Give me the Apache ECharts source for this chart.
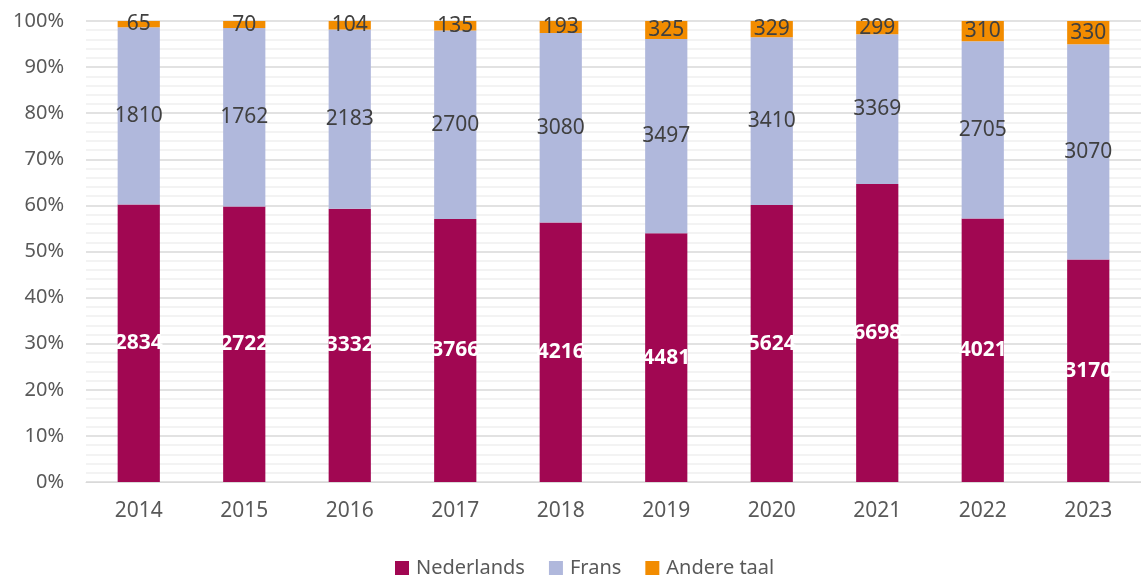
<!DOCTYPE html>
<html>
<head>
<meta charset="utf-8">
<script src="https://cdn.jsdelivr.net/npm/echarts@6/dist/echarts.min.js"></script>
<style>
  html, body { margin: 0; padding: 0; background: #fff; }
  #main { width: 1141px; height: 581px; }
</style>
</head>
<body>
<div id="main"></div>
<script>
// jaren en aantallen per taal
var years = ["2014", "2015", "2016", "2017", "2018", "2019", "2020", "2021", "2022", "2023"];
var nederlands = [2834, 2722, 3332, 3766, 4216, 4481, 5624, 6698, 4021, 3170];
var frans = [1810, 1762, 2183, 2700, 3080, 3497, 3410, 3369, 2705, 3070];
var andere = [65, 70, 104, 135, 193, 325, 329, 299, 310, 330];

var totals = years.map(function (y, i) {
  return nederlands[i] + frans[i] + andere[i];
});

// aandeel per jaar, label toont het echte aantal
function shares(arr) {
  return arr.map(function (v, i) {
    return { value: v / totals[i], raw: v };
  });
}

var myChart = echarts.init(document.getElementById("main"));
var font = "'Noto Sans', sans-serif";

function labelCfg(color, bold) {
  return {
    show: true,
    position: "inside",
    color: color,
    fontSize: 21,
    fontFamily: font,
    fontWeight: bold ? "bold" : "normal",
    formatter: function (p) { return p.data.raw; }
  };
}

var option = {
  animation: false,
  grid: { left: 86, top: 21, width: 1064, height: 461 },
  legend: {
    left: 395,
    top: 558,
    padding: 0,
    itemWidth: 14,
    itemHeight: 14,
    itemGap: 24,
    icon: "rect",
    textStyle: { color: "#595959", fontSize: 20, fontFamily: font, padding: [0, 0, 0, 2] },
    data: ["Nederlands", "Frans", "Andere taal"]
  },
  xAxis: {
    type: "category",
    data: years,
    axisTick: { show: false },
    axisLine: { lineStyle: { color: "#d9d9d9", width: 1 } },
    axisLabel: { color: "#595959", fontSize: 21, fontFamily: font, margin: 19 }
  },
  yAxis: {
    type: "value",
    min: 0,
    max: 1,
    interval: 0.1,
    axisLine: { show: false },
    axisTick: { show: false },
    axisLabel: {
      color: "#595959",
      fontSize: 20,
      fontFamily: font,
      margin: 22,
      formatter: function (v) { return Math.round(v * 100) + "%"; }
    },
    splitLine: { lineStyle: { color: "#d9d9d9", width: 1.5 } },
    minorTick: { show: false, splitNumber: 5 },
    minorSplitLine: { show: true, lineStyle: { color: "#f0f0f0", width: 1.5 } }
  },
  series: [
    {
      name: "Nederlands",
      type: "bar",
      stack: "taal",
      barWidth: "40%",
      itemStyle: { color: "#a10752" },
      label: labelCfg("#ffffff", true),
      data: shares(nederlands)
    },
    {
      name: "Frans",
      type: "bar",
      stack: "taal",
      itemStyle: { color: "#b0b8dc" },
      label: labelCfg("#404040", false),
      data: shares(frans)
    },
    {
      name: "Andere taal",
      type: "bar",
      stack: "taal",
      itemStyle: { color: "#f28c00" },
      label: labelCfg("#404040", false),
      data: shares(andere)
    }
  ]
};

myChart.setOption(option);
</script>
</body>
</html>
